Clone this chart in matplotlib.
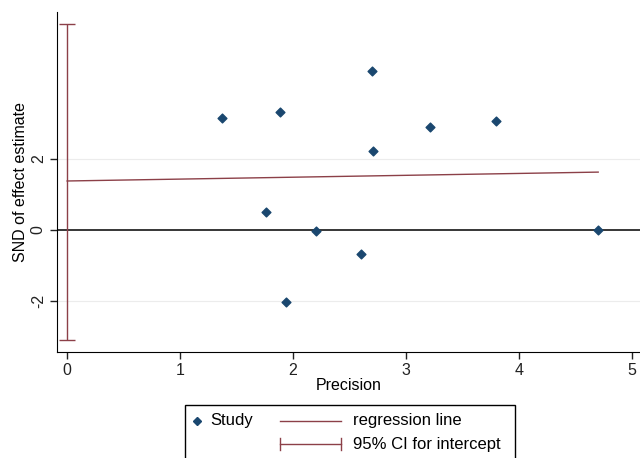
import matplotlib.pyplot as plt
from matplotlib.lines import Line2D
from matplotlib.patches import Rectangle

plt.rcParams['font.family'] = ['Liberation Sans', 'DejaVu Sans']

# study points: precision vs standard normal deviate
precision = [1.37, 1.76, 1.88, 1.94, 2.20, 2.60, 2.70, 2.71, 3.21, 3.80, 4.70]
snd = [3.15, 0.50, 3.32, -2.03, -0.03, -0.68, 4.48, 2.23, 2.90, 3.07, 0.00]

# regression line and CI for intercept
reg_x = [0, 4.70]
reg_y = [1.38, 1.63]
ci_low, ci_high = -3.10, 5.80

xticks = [0, 1, 2, 3, 4, 5]
yticks = [-2, 0, 2]

navy = '#1a476f'
maroon = '#8c4048'
fs = 11.5

fig = plt.figure(figsize=(6.4, 4.58), dpi=100)
ax = fig.add_axes([0.089, 0.231, 0.911, 0.743])

ax.axhline(0, color='black', lw=1.1, zorder=2)
for yv in [-2, 2]:
    ax.axhline(yv, color='#ececec', lw=0.8, zorder=1)

ax.plot(reg_x, reg_y, color=maroon, lw=1.0, zorder=3)
ax.errorbar([0], [(ci_low + ci_high) / 2], yerr=[[(ci_high - ci_low) / 2]],
            fmt='none', ecolor=maroon, elinewidth=1.0, capsize=6, capthick=1.0, zorder=3)
ax.scatter(precision, snd, marker='D', s=20, color=navy, zorder=4)

ax.set_xlim(-0.09, 5.07)
ax.set_ylim(-3.44, 6.14)
ax.set_xticks(xticks)
ax.set_xticklabels([str(t) for t in xticks], fontsize=fs)
ax.set_yticks(yticks)
ax.set_yticklabels([str(t) for t in yticks], fontsize=fs, rotation=90, va='center')
ax.tick_params(direction='out', length=5, width=1, colors='#222222', pad=3)
ax.spines['top'].set_visible(False)
ax.spines['right'].set_visible(False)
ax.set_xlabel('Precision', fontsize=fs, labelpad=0)
ax.set_ylabel('SND of effect estimate', fontsize=fs, labelpad=2)

# legend box drawn below the plot (cut off at the bottom like the original)
W, H = 640.0, 458.0
def fx(px):
    return px / W
def fy(py):
    return 1 - py / H

lfs = 12
fig.patches.append(Rectangle((fx(185), fy(470)), fx(515) - fx(185), fy(405) - fy(470),
                             transform=fig.transFigure, fill=False, edgecolor='black', lw=1.0))
fig.lines.append(Line2D([fx(197)], [fy(421)], transform=fig.transFigure, marker='D',
                        markersize=4.5, color=navy, linestyle='none'))
fig.text(fx(210), fy(421), 'Study', fontsize=lfs, va='center')
fig.lines.append(Line2D([fx(280), fx(341)], [fy(421), fy(421)], transform=fig.transFigure,
                        color=maroon, lw=1.0))
fig.text(fx(353), fy(421), 'regression line', fontsize=lfs, va='center')
fig.lines.append(Line2D([fx(280), fx(341)], [fy(444), fy(444)], transform=fig.transFigure,
                        color=maroon, lw=1.0))
for cx in [280, 341]:
    fig.lines.append(Line2D([fx(cx), fx(cx)], [fy(438), fy(450)], transform=fig.transFigure,
                            color=maroon, lw=1.0))
fig.text(fx(353), fy(444), '95% CI for intercept', fontsize=lfs, va='center')

fig.savefig('out.png', dpi=100)
